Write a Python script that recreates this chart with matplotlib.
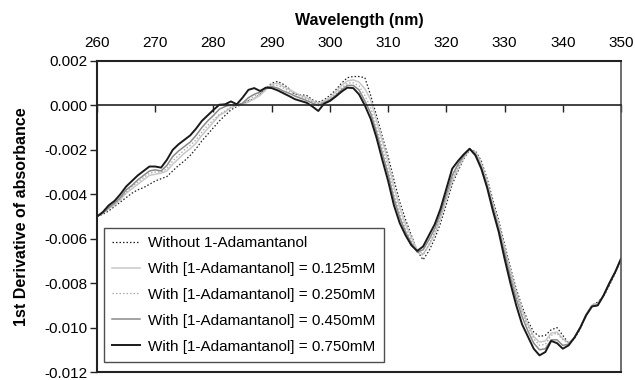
import matplotlib
matplotlib.use("Agg")
import matplotlib.pyplot as plt
import numpy as np
from matplotlib.ticker import FuncFormatter, MultipleLocator

plt.rcParams['font.family'] = ['Liberation Sans', 'DejaVu Sans']
plt.rcParams['axes.unicode_minus'] = False

wavelength = list(range(260, 351))

without_adamantanol = [
    -5.00, -4.90, -4.75, -4.55, -4.35, -4.15, -3.95, -3.80, -3.70, -3.55,
    -3.40, -3.30, -3.20, -2.95, -2.70, -2.50, -2.25, -1.95, -1.60, -1.30,
    -1.00, -0.70, -0.45, -0.20, -0.05, 0.05, 0.20, 0.30, 0.50, 0.75,
    1.00, 1.08, 0.95, 0.75, 0.50, 0.48, 0.45, 0.25, 0.15, 0.25,
    0.45, 0.70, 1.00, 1.25, 1.30, 1.30, 1.25, 0.45, -0.45, -1.40,
    -2.30, -3.35, -4.35, -5.15, -5.85, -6.55, -6.95, -6.55, -6.00, -5.30,
    -4.45, -3.55, -2.95, -2.40, -2.00, -2.05, -2.50, -3.30, -4.25, -5.20,
    -6.25, -7.30, -8.25, -9.05, -9.70, -10.20, -10.40, -10.35, -10.10, -10.00,
    -10.35, -10.70, -10.50, -10.05, -9.45, -9.00, -8.85, -8.60, -8.10, -7.55,
    -6.95]

conc_0125 = [
    -5.00, -4.85, -4.65, -4.50, -4.25, -3.95, -3.75, -3.55, -3.35, -3.15,
    -3.10, -3.05, -2.95, -2.65, -2.40, -2.15, -1.95, -1.70, -1.35, -1.05,
    -0.75, -0.45, -0.30, -0.10, 0.00, 0.05, 0.15, 0.30, 0.45, 0.70,
    0.95, 1.00, 0.85, 0.72, 0.58, 0.45, 0.35, 0.20, 0.10, 0.20,
    0.35, 0.60, 0.90, 1.10, 1.15, 1.05, 0.75, 0.25, -0.65, -1.60,
    -2.55, -3.65, -4.60, -5.35, -5.95, -6.50, -6.70, -6.30, -5.80, -5.10,
    -4.25, -3.40, -2.85, -2.35, -1.98, -2.10, -2.60, -3.45, -4.40, -5.35,
    -6.40, -7.45, -8.40, -9.20, -9.85, -10.40, -10.65, -10.60, -10.25, -10.20,
    -10.50, -10.70, -10.45, -10.00, -9.40, -9.00, -8.95, -8.55, -8.00, -7.50,
    -6.90]

conc_0250 = [
    -5.00, -4.85, -4.60, -4.45, -4.20, -3.90, -3.65, -3.45, -3.25, -3.05,
    -3.00, -3.00, -2.85, -2.50, -2.25, -2.00, -1.80, -1.55, -1.20, -0.90,
    -0.65, -0.40, -0.25, -0.05, 0.00, 0.10, 0.25, 0.40, 0.55, 0.75,
    0.90, 0.90, 0.78, 0.65, 0.50, 0.40, 0.30, 0.15, 0.08, 0.15,
    0.30, 0.50, 0.78, 1.00, 1.02, 0.88, 0.45, -0.10, -0.95, -1.90,
    -2.85, -3.95, -4.85, -5.55, -6.10, -6.60, -6.75, -6.25, -5.70, -5.00,
    -4.15, -3.30, -2.75, -2.30, -1.95, -2.15, -2.70, -3.55, -4.50, -5.45,
    -6.50, -7.55, -8.50, -9.30, -9.95, -10.50, -10.80, -10.75, -10.35, -10.25,
    -10.55, -10.70, -10.45, -10.00, -9.40, -9.00, -8.90, -8.60, -8.05, -7.50,
    -6.90]

conc_0450 = [
    -5.00, -4.85, -4.60, -4.40, -4.15, -3.80, -3.60, -3.35, -3.15, -2.95,
    -2.90, -2.95, -2.70, -2.30, -2.05, -1.85, -1.65, -1.35, -1.00, -0.70,
    -0.45, -0.17, -0.05, 0.03, 0.02, 0.10, 0.35, 0.50, 0.60, 0.80,
    0.85, 0.78, 0.65, 0.55, 0.42, 0.32, 0.22, 0.10, 0.00, 0.12,
    0.25, 0.45, 0.70, 0.90, 0.90, 0.70, 0.20, -0.35, -1.20, -2.15,
    -3.10, -4.20, -5.05, -5.70, -6.20, -6.60, -6.50, -6.05, -5.55, -4.85,
    -4.00, -3.15, -2.65, -2.25, -1.95, -2.20, -2.80, -3.65, -4.60, -5.60,
    -6.65, -7.75, -8.70, -9.50, -10.15, -10.70, -11.00, -10.95, -10.55, -10.55,
    -10.80, -10.75, -10.45, -10.00, -9.45, -9.05, -9.00, -8.55, -8.00, -7.50,
    -6.90]

conc_0750 = [
    -5.00, -4.80, -4.50, -4.30, -4.00, -3.65, -3.40, -3.15, -2.95, -2.75,
    -2.75, -2.80, -2.45, -2.00, -1.75, -1.55, -1.35, -1.05, -0.70, -0.45,
    -0.20, 0.03, 0.05, 0.18, 0.05, 0.35, 0.70, 0.78, 0.65, 0.80,
    0.78, 0.68, 0.55, 0.42, 0.28, 0.20, 0.12, -0.05, -0.25, 0.08,
    0.20, 0.40, 0.62, 0.80, 0.78, 0.50, 0.00, -0.60, -1.45, -2.45,
    -3.40, -4.50, -5.30, -5.85, -6.30, -6.55, -6.35, -5.85, -5.35, -4.65,
    -3.75, -2.85, -2.50, -2.20, -1.95, -2.25, -2.85, -3.70, -4.75, -5.70,
    -6.90, -8.00, -9.00, -9.85, -10.40, -10.95, -11.25, -11.10, -10.60, -10.70,
    -10.95, -10.80, -10.45, -10.00, -9.45, -9.05, -9.00, -8.55, -8.00, -7.50,
    -6.90]

labels = ["Without 1-Adamantanol",
          "With [1-Adamantanol] = 0.125mM",
          "With [1-Adamantanol] = 0.250mM",
          "With [1-Adamantanol] = 0.450mM",
          "With [1-Adamantanol] = 0.750mM"]

unit = 1e-3  # values above are in units of 1e-3

series = [without_adamantanol, conc_0125, conc_0250, conc_0450, conc_0750]
styles = [
    dict(color='#202020', ls=(0, (1.2, 1.6)), lw=0.9),
    dict(color='#c8c8c8', ls='-', lw=1.1),
    dict(color='#a8a8a8', ls=(0, (1.2, 1.6)), lw=0.9),
    dict(color='#8a8a8a', ls='-', lw=1.1),
    dict(color='#1a1a1a', ls='-', lw=1.4),
]

fig = plt.figure(figsize=(6.35, 3.8), dpi=100)
ax = fig.add_axes([0.1528, 0.021, 0.8252, 0.8185])

x = np.array(wavelength)
for vals, lab, st in zip(series, labels, styles):
    ax.plot(x, np.array(vals) * unit, label=lab, **st)

ax.set_xlim(260, 350)
ax.set_ylim(-0.012, 0.002)
ax.xaxis.set_major_locator(MultipleLocator(10))
ax.yaxis.set_major_locator(MultipleLocator(0.002))
ax.yaxis.set_major_formatter(FuncFormatter(lambda v, p: f"{v:.3f}".replace("-0.000", "0.000")))

# x axis crosses at zero, labels at top
ax.spines['bottom'].set_position(('data', 0))
ax.spines['bottom'].set_color('#222222')
ax.spines['bottom'].set_linewidth(1.2)
ax.tick_params(axis='x', which='both', bottom=True, top=False, labelbottom=False,
               labeltop=True, direction='out', length=5, width=1.0, pad=3,
               labelsize=11, color='#222222')
ax.tick_params(axis='y', direction='out', length=5, width=1.0, labelsize=11, pad=2,
               color='#222222')
for s in ['left', 'top']:
    ax.spines[s].set_linewidth(1.5)
    ax.spines[s].set_color('#222222')
ax.spines['right'].set_linewidth(1.2)
ax.spines['right'].set_color('#555555')
# bottom frame line of plot area
ax.plot([0, 1], [0, 0], transform=ax.transAxes, color='#222222', lw=1.5,
        clip_on=False, zorder=5)

ax.set_xlabel("Wavelength (nm)", fontsize=11.5, fontweight='bold', labelpad=8)
ax.xaxis.set_label_position('top')
ax.set_ylabel("1st Derivative of absorbance", fontsize=11.5, fontweight='bold', labelpad=11)

leg = ax.legend(loc='lower left', bbox_to_anchor=(0.013, 0.032), borderaxespad=0,
                fontsize=11, frameon=True, fancybox=False, labelspacing=0.78,
                handlelength=1.8, handletextpad=0.55, borderpad=0.55)
leg.get_frame().set_edgecolor('#222222')
leg.get_frame().set_linewidth(1.0)

fig.savefig("out.png", dpi=100)
